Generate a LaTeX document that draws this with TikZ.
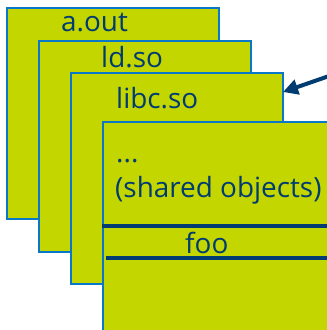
\documentclass[tikz,border=0pt]{standalone}
\usepackage{fontspec}
\setmainfont{Open Sans}
\usetikzlibrary{arrows.meta}
\definecolor{layerfill}{HTML}{C4D600}
\definecolor{layeredge}{HTML}{0A78C8}
\definecolor{inkblue}{HTML}{003C71}
\tikzset{
  layer/.style={draw=layeredge, fill=layerfill, line width=2bp, anchor=north west,
    inner sep=0pt, minimum width=212bp, minimum height=211bp},
  label/.style={anchor=base west, inner sep=0pt, text=inkblue, font=\fontsize{28}{32}\selectfont},
  divider/.style={draw=inkblue, line width=4.5bp},
  pointer/.style={draw=inkblue, line width=4bp, -{Triangle[length=15bp,width=15bp]}}
}
\begin{document}
\begin{tikzpicture}[x=1bp,y=-1bp]
\useasboundingbox (0,0) rectangle (327,330);
\clip (0,0) rectangle (327,330);
% stacked memory segments
\node[layer] (aout) at (6,7) {};
\node[layer] (ldso) at (38,40) {};
\node[layer] (libc) at (70,72) {};
\node[layer, minimum width=240bp, minimum height=230bp] (exe) at (102,121) {};
% segment names
\node[label] (taout) at (61,31) {a.out};
\node[label] (tldso) at (101,67) {ld.so};
\node[label] (tlibc) at (116,108) {libc.so};
\node[label] (tdots) at (116,162) {...};
\node[label] (tshared) at (115,197) {(shared objects)};
\node[label] (tfoo) at (185,253) {foo};
% section boundaries around foo
\coordinate (d1a) at (102,226);
\coordinate (d1b) at (330,226);
\coordinate (d2a) at (106,258);
\coordinate (d2b) at (330,258);
\draw[divider] (d1a) -- (d1b);
\draw[divider] (d2a) -- (d2b);
% pointer to the right edge of libc.so
\coordinate (src) at (332,75);
\coordinate (hit) at (283,92);
\draw[pointer] (src) -- (hit);
\end{tikzpicture}
\end{document}
